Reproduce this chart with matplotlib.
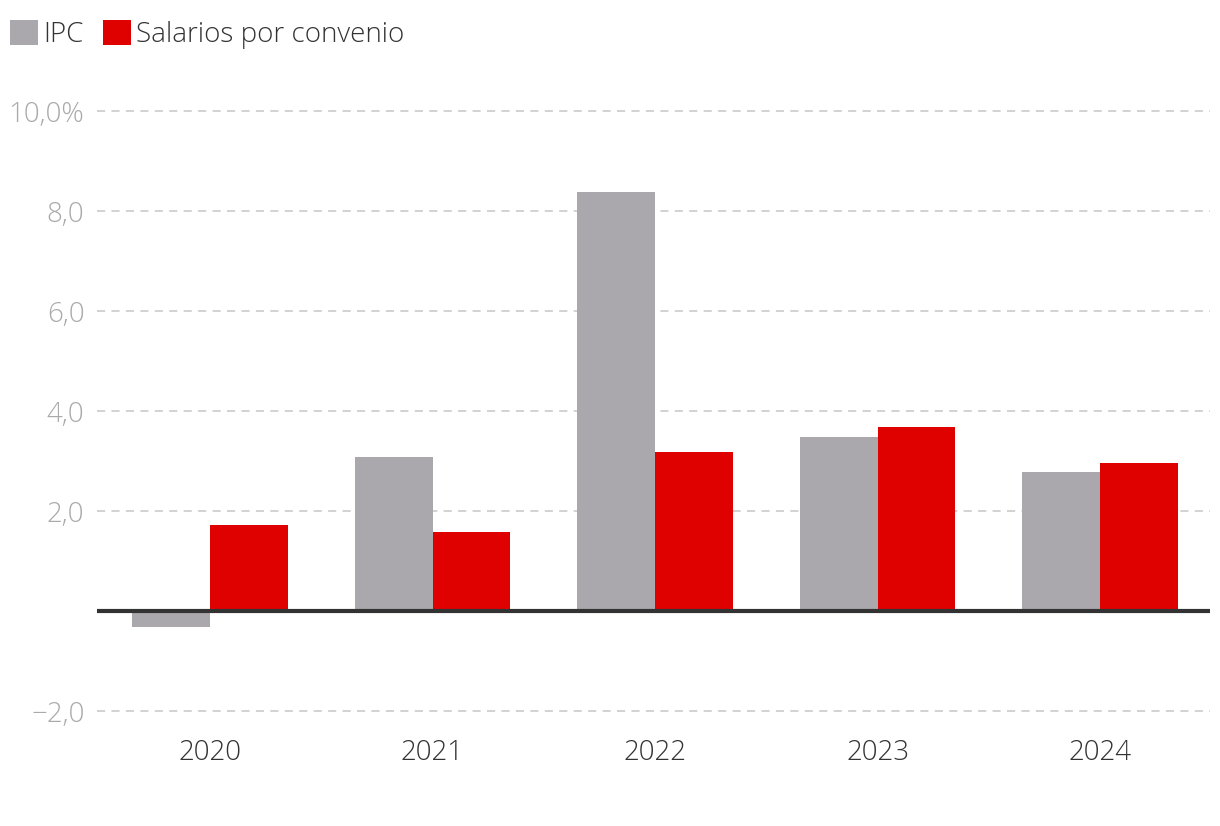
import numpy as np
import matplotlib.pyplot as plt

years = ['2020', '2021', '2022', '2023', '2024']
ipc = [-0.32, 3.08, 8.38, 3.48, 2.78]
salarios = [1.72, 1.58, 3.18, 3.68, 2.96]
yticks = [-2, 2, 4, 6, 8, 10]
ytick_labels = ['\u22122,0', '2,0', '4,0', '6,0', '8,0', '10,0%']

plt.rcParams['font.family'] = ['Open Sans', 'DejaVu Sans']

fig = plt.figure(figsize=(12.2, 8.26), dpi=100)
ax = fig.add_axes([97 / 1220, 1 - 711 / 826, (1210 - 97) / 1220, 600 / 826])

x = np.arange(len(years))
w = 0.35
ax.bar(x - w / 2, ipc, w, color='#aaa8ad', label='IPC', zorder=2)
ax.bar(x + w / 2, salarios, w, color='#df0000', label='Salarios por convenio', zorder=2)

ax.set_xlim(-0.508, 4.494)
ax.set_ylim(-2, 10)
ax.set_yticks(yticks)
ax.set_yticklabels(ytick_labels)
ax.set_xticks(x)
ax.set_xticklabels(years)

for t in yticks:
    ax.axhline(t, color='#cfcfcf', lw=1.3, ls=(0, (4.5, 3.5)), zorder=1, clip_on=False)
ax.axhline(0, color='#333333', lw=3, zorder=3)

for s in ax.spines.values():
    s.set_visible(False)
ax.tick_params(axis='both', length=0)
ax.tick_params(axis='y', labelsize=20, labelcolor='#aaaaaa', pad=9)
ax.tick_params(axis='x', labelsize=20, labelcolor='#333333', pad=20)
for lab in ax.get_yticklabels() + ax.get_xticklabels():
    lab.set_fontweight('light')

leg = fig.legend(loc='upper left', bbox_to_anchor=(10 / 1220, 1 - 20 / 826), ncol=2, frameon=False,
                 fontsize=20, handlelength=1.0, handleheight=1.0, handletextpad=0.2,
                 columnspacing=0.7, borderaxespad=0, borderpad=0)
for t in leg.get_texts():
    t.set_color('#333333')
    t.set_fontweight('light')

fig.savefig('out.png', dpi=100)
